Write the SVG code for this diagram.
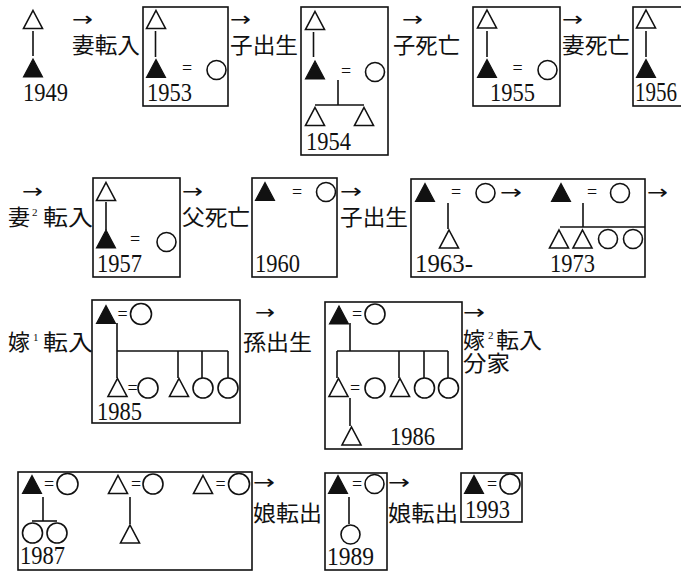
<svg xmlns="http://www.w3.org/2000/svg" xmlns:xlink="http://www.w3.org/1999/xlink" width="681" height="571" viewBox="0 0 681 571">
<style>
.bg{fill:#fff}
.box{fill:none;stroke:#111;stroke-width:1.6}
.ln{stroke:#111;stroke-width:1.6;fill:none}
.o{fill:#fff;stroke:#111;stroke-width:1.6}
.f{fill:#111;stroke:#111;stroke-width:1.2}
.c{fill:#fff;stroke:#111;stroke-width:1.6}
.yr{font-family:"Liberation Serif",serif;font-size:26px;fill:#111}
.eq{font-family:"Liberation Serif",serif;font-size:18px;fill:#111;text-anchor:middle}
.ar{font-family:"DejaVu Sans",sans-serif;font-size:20px;fill:#111}
.lb{font-family:"Liberation Serif","Noto Sans CJK JP",serif;font-size:22px;fill:#111}
.sup{font-family:"Liberation Serif",serif;font-size:11px;fill:#111}
</style>
<defs>
<path id="t" d="M0,-9 L9.5,9 L-9.5,9 Z"/>
</defs>
<rect class="bg" x="0" y="0" width="681" height="571"/>

<g id="n1949">
<use href="#t" class="o" x="33" y="19.5"/>
<line class="ln" x1="33" y1="31" x2="33" y2="56"/>
<use href="#t" class="f" x="33" y="68"/>
<text class="yr" x="23" y="101" textLength="45" lengthAdjust="spacingAndGlyphs">1949</text>
</g>

<g id="n1953">
<rect class="box" x="143" y="7" width="85" height="99"/>
<use href="#t" class="o" x="156" y="19.5"/>
<line class="ln" x1="155.5" y1="31" x2="155.5" y2="57"/>
<use href="#t" class="f" x="156" y="68.5"/>
<text class="eq" x="187" y="74">=</text>
<circle class="c" cx="216.5" cy="70" r="9.5"/>
<text class="yr" x="147" y="101" textLength="45" lengthAdjust="spacingAndGlyphs">1953</text>
</g>

<g id="n1954">
<rect class="box" x="301" y="7" width="87" height="148"/>
<use href="#t" class="o" x="315" y="20.5"/>
<line class="ln" x1="313.5" y1="32" x2="313.5" y2="57"/>
<use href="#t" class="f" x="315" y="70"/>
<text class="eq" x="346" y="77">=</text>
<circle class="c" cx="375" cy="72" r="9.5"/>
<line class="ln" x1="338" y1="80" x2="338" y2="105"/>
<line class="ln" x1="315" y1="105" x2="364" y2="105"/>
<use href="#t" class="o" x="315" y="116.5"/>
<use href="#t" class="o" x="364" y="116.5"/>
<text class="yr" x="306" y="150" textLength="45" lengthAdjust="spacingAndGlyphs">1954</text>
</g>

<g id="n1955">
<rect class="box" x="473" y="7" width="87" height="99"/>
<use href="#t" class="o" x="487" y="19"/>
<line class="ln" x1="487" y1="31" x2="487" y2="57"/>
<use href="#t" class="f" x="487" y="68.5"/>
<text class="eq" x="517.5" y="74">=</text>
<circle class="c" cx="547.5" cy="70" r="9.5"/>
<text class="yr" x="490" y="101" textLength="45" lengthAdjust="spacingAndGlyphs">1955</text>
</g>

<g id="n1956">
<rect class="box" x="633" y="7" width="60" height="99"/>
<use href="#t" class="o" x="646" y="19"/>
<line class="ln" x1="646" y1="31" x2="646" y2="57"/>
<use href="#t" class="f" x="646" y="68.5"/>
<text class="yr" transform="translate(635,101) scale(1,1.25)" x="0" y="0" style="font-size:21px">1956</text>
</g>

<g id="n1957">
<rect class="box" x="93" y="178" width="87" height="99"/>
<use href="#t" class="o" x="106" y="191.5"/>
<line class="ln" x1="106" y1="202" x2="106" y2="230"/>
<use href="#t" class="f" x="106" y="239"/>
<text class="eq" x="135" y="245">=</text>
<circle class="c" cx="166.5" cy="242" r="9.5"/>
<text class="yr" x="97" y="272" textLength="45" lengthAdjust="spacingAndGlyphs">1957</text>
</g>

<g id="n1960">
<rect class="box" x="252" y="178" width="85" height="99"/>
<use href="#t" class="f" x="265" y="191.5"/>
<text class="eq" x="297" y="198">=</text>
<circle class="c" cx="326" cy="192" r="9.5"/>
<text class="yr" x="255" y="272" textLength="45" lengthAdjust="spacingAndGlyphs">1960</text>
</g>

<g id="n1963">
<rect class="box" x="411" y="179" width="234" height="98"/>
<use href="#t" class="f" x="425" y="192.5"/>
<text class="eq" x="456" y="198">=</text>
<circle class="c" cx="485.5" cy="193" r="9.5"/>
<text class="ar" x="500" y="199" textLength="22" lengthAdjust="spacingAndGlyphs">→</text>
<line class="ln" x1="448" y1="203" x2="448" y2="229"/>
<use href="#t" class="o" x="449" y="239"/>
<text class="yr" x="415" y="272" textLength="58" lengthAdjust="spacingAndGlyphs">1963-</text>
<use href="#t" class="f" x="561" y="192.5"/>
<text class="eq" x="592" y="198">=</text>
<circle class="c" cx="620" cy="193" r="9.5"/>
<line class="ln" x1="583" y1="203" x2="583" y2="227"/>
<line class="ln" x1="560" y1="227" x2="645" y2="227"/>
<use href="#t" class="o" x="559" y="239"/>
<use href="#t" class="o" x="582.5" y="239"/>
<circle class="c" cx="608" cy="239" r="9.5"/>
<circle class="c" cx="633" cy="239" r="9.5"/>
<text class="yr" x="550" y="272" textLength="45" lengthAdjust="spacingAndGlyphs">1973</text>
</g>

<g id="n1985">
<rect class="box" x="92" y="300" width="148" height="123"/>
<use href="#t" class="f" x="106" y="314.5"/>
<text class="eq" x="122.5" y="320">=</text>
<circle class="c" cx="141" cy="314" r="10.5"/>
<line class="ln" x1="117" y1="323" x2="117" y2="378"/>
<line class="ln" x1="117" y1="351" x2="228" y2="351"/>
<line class="ln" x1="178" y1="351" x2="178" y2="378"/>
<line class="ln" x1="202" y1="351" x2="202" y2="378"/>
<line class="ln" x1="228" y1="351" x2="228" y2="378"/>
<use href="#t" class="o" x="117.5" y="387.5"/>
<text class="eq" x="132.5" y="394">=</text>
<circle class="c" cx="148" cy="388" r="10"/>
<use href="#t" class="o" x="179" y="387.5"/>
<circle class="c" cx="203" cy="388" r="10"/>
<circle class="c" cx="228" cy="388" r="10"/>
<text class="yr" x="97" y="420" textLength="45" lengthAdjust="spacingAndGlyphs">1985</text>
</g>

<g id="n1986">
<rect class="box" x="325" y="302" width="137" height="147"/>
<use href="#t" class="f" x="339" y="315"/>
<text class="eq" x="357" y="320">=</text>
<circle class="c" cx="375" cy="314" r="10"/>
<line class="ln" x1="350" y1="323" x2="350" y2="351"/>
<line class="ln" x1="337" y1="351" x2="448" y2="351"/>
<line class="ln" x1="337" y1="351" x2="337" y2="378"/>
<line class="ln" x1="399" y1="351" x2="399" y2="378"/>
<line class="ln" x1="424" y1="351" x2="424" y2="378"/>
<line class="ln" x1="448" y1="351" x2="448" y2="378"/>
<use href="#t" class="o" x="338.5" y="387.5"/>
<text class="eq" x="355" y="394">=</text>
<circle class="c" cx="375" cy="388" r="10"/>
<use href="#t" class="o" x="400" y="387.5"/>
<circle class="c" cx="424.5" cy="388" r="10"/>
<circle class="c" cx="448.5" cy="388" r="10"/>
<line class="ln" x1="350" y1="398" x2="350" y2="426"/>
<use href="#t" class="o" x="351.5" y="436"/>
<text class="yr" x="390" y="445" textLength="45" lengthAdjust="spacingAndGlyphs">1986</text>
</g>

<g id="n1987">
<rect class="box" x="18" y="472" width="234" height="98"/>
<use href="#t" class="f" x="32" y="484.5"/>
<text class="eq" x="49" y="490">=</text>
<circle class="c" cx="67.5" cy="484" r="10.5"/>
<use href="#t" class="o" x="118" y="484.5"/>
<text class="eq" x="136" y="490">=</text>
<circle class="c" cx="153" cy="484" r="10"/>
<use href="#t" class="o" x="203" y="484.5"/>
<text class="eq" x="220.5" y="490">=</text>
<circle class="c" cx="239" cy="484" r="10.5"/>
<line class="ln" x1="43" y1="497" x2="43" y2="521"/>
<line class="ln" x1="32" y1="521" x2="57" y2="521"/>
<circle class="c" cx="32.5" cy="533" r="10"/>
<circle class="c" cx="57" cy="533" r="10"/>
<line class="ln" x1="130" y1="497" x2="130" y2="524"/>
<use href="#t" class="o" x="130" y="534"/>
<text class="yr" x="20" y="564" textLength="45" lengthAdjust="spacingAndGlyphs">1987</text>
</g>

<g id="n1989">
<rect class="box" x="325" y="473" width="62" height="97"/>
<use href="#t" class="f" x="338" y="484.5"/>
<text class="eq" x="357" y="490">=</text>
<circle class="c" cx="374.5" cy="484" r="9.5"/>
<line class="ln" x1="349" y1="497" x2="349" y2="524"/>
<circle class="c" cx="350.5" cy="534.5" r="9.5"/>
<text class="yr" x="327" y="565" textLength="47" lengthAdjust="spacingAndGlyphs">1989</text>
</g>

<g id="n1993">
<rect class="box" x="461" y="473" width="61" height="49"/>
<use href="#t" class="f" x="474" y="484.5"/>
<text class="eq" x="492" y="490">=</text>
<circle class="c" cx="510" cy="484" r="10"/>
<text class="yr" x="465" y="518" textLength="45" lengthAdjust="spacingAndGlyphs">1993</text>
</g>

<g id="connectors">
<text class="ar" x="72" y="26" textLength="21" lengthAdjust="spacingAndGlyphs">→</text>
<text class="lb" x="72" y="53" textLength="68" lengthAdjust="spacingAndGlyphs">妻転入</text>
<text class="ar" x="230" y="26" textLength="21" lengthAdjust="spacingAndGlyphs">→</text>
<text class="lb" x="230" y="53" textLength="68" lengthAdjust="spacingAndGlyphs">子出生</text>
<text class="ar" x="402" y="26" textLength="21" lengthAdjust="spacingAndGlyphs">→</text>
<text class="lb" x="393" y="53" textLength="67" lengthAdjust="spacingAndGlyphs">子死亡</text>
<text class="ar" x="562" y="26" textLength="21" lengthAdjust="spacingAndGlyphs">→</text>
<text class="lb" x="562" y="53" textLength="68" lengthAdjust="spacingAndGlyphs">妻死亡</text>

<text class="ar" x="22" y="198" textLength="21" lengthAdjust="spacingAndGlyphs">→</text>
<text class="lb" x="8" y="225">妻</text>
<text class="sup" x="32" y="216">2</text>
<text class="lb" x="43" y="225" textLength="50" lengthAdjust="spacingAndGlyphs">転入</text>
<text class="ar" x="182" y="198" textLength="21" lengthAdjust="spacingAndGlyphs">→</text>
<text class="lb" x="182" y="225" textLength="68" lengthAdjust="spacingAndGlyphs">父死亡</text>
<text class="ar" x="340" y="198" textLength="22" lengthAdjust="spacingAndGlyphs">→</text>
<text class="lb" x="340" y="225" textLength="68" lengthAdjust="spacingAndGlyphs">子出生</text>
<text class="ar" x="647" y="199" textLength="21" lengthAdjust="spacingAndGlyphs">→</text>

<text class="lb" x="8" y="350">嫁</text>
<text class="sup" x="33" y="341">1</text>
<text class="lb" x="43" y="350" textLength="50" lengthAdjust="spacingAndGlyphs">転入</text>
<text class="ar" x="255" y="319" textLength="20" lengthAdjust="spacingAndGlyphs">→</text>
<text class="lb" x="243" y="350" textLength="69" lengthAdjust="spacingAndGlyphs">孫出生</text>
<text class="ar" x="463" y="319" textLength="22" lengthAdjust="spacingAndGlyphs">→</text>
<text class="lb" x="463" y="348">嫁</text>
<text class="sup" x="488" y="339">2</text>
<text class="lb" x="496" y="348" textLength="46" lengthAdjust="spacingAndGlyphs">転入</text>
<text class="lb" x="463" y="371" textLength="47" lengthAdjust="spacingAndGlyphs">分家</text>

<text class="ar" x="253" y="489" textLength="22" lengthAdjust="spacingAndGlyphs">→</text>
<text class="lb" x="253" y="521" textLength="69" lengthAdjust="spacingAndGlyphs">娘転出</text>
<text class="ar" x="388" y="489" textLength="22" lengthAdjust="spacingAndGlyphs">→</text>
<text class="lb" x="388" y="521" textLength="70" lengthAdjust="spacingAndGlyphs">娘転出</text>
</g>
</svg>
